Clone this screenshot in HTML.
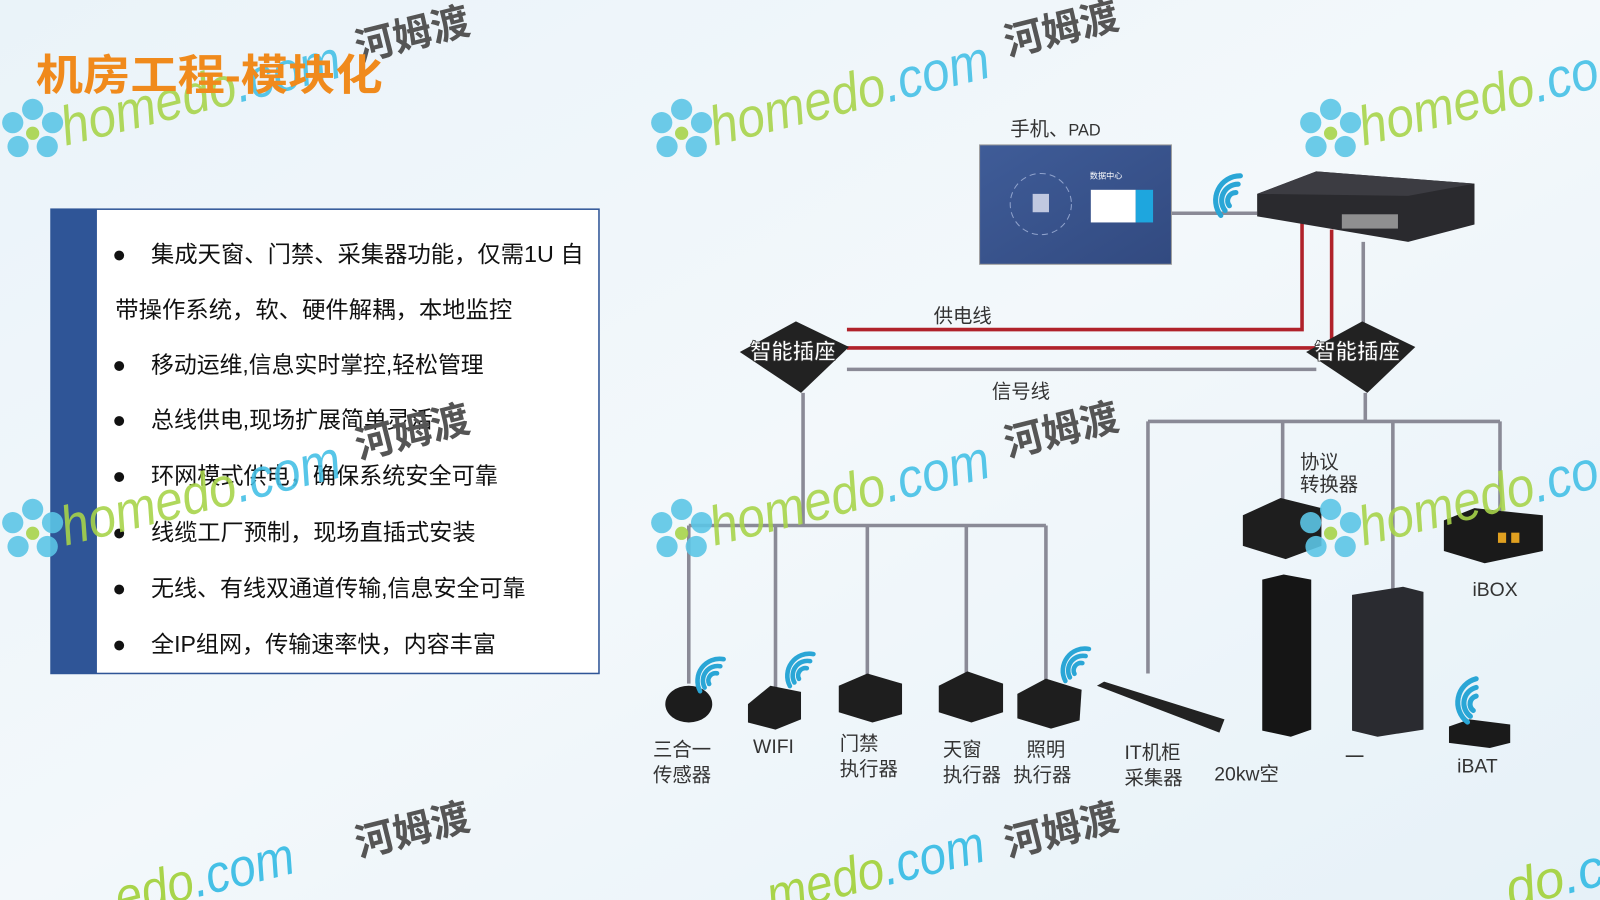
<!DOCTYPE html>
<html><head><meta charset="utf-8"><style>
html,body{margin:0;padding:0;width:1600px;height:900px;overflow:hidden;background:#eef5fa}
svg{display:block}
text{font-family:"Liberation Sans","Noto Sans CJK SC",sans-serif}
</style></head><body>
<svg width="1600" height="900" viewBox="0 0 1568 882" xmlns="http://www.w3.org/2000/svg">
<defs>
<linearGradient id="bg" x1="0" y1="0" x2="1" y2="1"><stop offset="0" stop-color="#eaf3f9"/><stop offset="0.5" stop-color="#f3f8fb"/><stop offset="1" stop-color="#e6f1f8"/></linearGradient>
<linearGradient id="pad" x1="0" y1="0" x2="1" y2="1"><stop offset="0" stop-color="#3f5c98"/><stop offset="1" stop-color="#324a80"/></linearGradient>
<g id="wm">
 <g fill="#5cc6e6" transform="scale(1.3)"><circle cx="0" cy="-16" r="8"/><circle cx="15" cy="-6" r="8"/><circle cx="11" cy="12" r="8"/><circle cx="-11" cy="12" r="8"/><circle cx="-15" cy="-6" r="8"/><circle cx="0" cy="2" r="5" fill="#a8d44a"/></g>
 <text x="36" y="14" font-size="54" fill="#a8d44a" font-style="italic" transform="rotate(-14 36 14) scale(0.9 1)">homedo<tspan fill="#45c0e6">.com</tspan></text>
</g>
<g id="wifi" fill="none" stroke="#2aa6d6" stroke-width="5" stroke-linecap="round"><path d="M-6 10 A8 8 0 0 1 6 2"/><path d="M-12 12 A16 16 0 0 1 12 -4"/><path d="M-18 14 A24 24 0 0 1 18 -10"/></g>
</defs>
<rect width="1568" height="882" fill="url(#bg)"/>

<!-- text box -->
<rect x="50" y="205" width="537" height="455" fill="#fff" stroke="#2f5597" stroke-width="1.5"/>
<rect x="50" y="205" width="45" height="455" fill="#2f5597"/>
<g font-size="22.5" fill="#111">
<text x="110" y="257">●</text><text x="148" y="257" textLength="424" lengthAdjust="spacingAndGlyphs">集成天窗、门禁、采集器功能，仅需1U 自</text>
<text x="113" y="311" textLength="389" lengthAdjust="spacingAndGlyphs">带操作系统，软、硬件解耦，本地监控</text>
<text x="110" y="365">●</text><text x="148" y="365" textLength="326" lengthAdjust="spacingAndGlyphs">移动运维,信息实时掌控,轻松管理</text>
<text x="110" y="419">●</text><text x="148" y="419" textLength="276" lengthAdjust="spacingAndGlyphs">总线供电,现场扩展简单灵活</text>
<text x="110" y="474">●</text><text x="148" y="474" textLength="340" lengthAdjust="spacingAndGlyphs">环网模式供电，确保系统安全可靠</text>
<text x="110" y="529">●</text><text x="148" y="529" textLength="318" lengthAdjust="spacingAndGlyphs">线缆工厂预制，现场直插式安装</text>
<text x="110" y="584">●</text><text x="148" y="584" textLength="367" lengthAdjust="spacingAndGlyphs">无线、有线双通道传输,信息安全可靠</text>
<text x="110" y="639">●</text><text x="148" y="639" textLength="338" lengthAdjust="spacingAndGlyphs">全IP组网，传输速率快，内容丰富</text>
</g>

<!-- lines -->
<g stroke="#8a8a96" stroke-width="3.5" fill="none">
<path d="M1148 209 H1232"/>
<path d="M1336 237 V318"/>
<path d="M830 362 H1290"/>
<path d="M787 385 V515 M675 515 H1025 M675 515 V670 M760 515 V675 M850 515 V665 M947 515 V665 M1025 515 V672"/>
<path d="M1338 385 V413 M1125 413 H1470 M1125 413 V660 M1257 413 V490 M1365 413 V580 M1470 413 V505"/>
</g>
<g stroke="#b0222a" stroke-width="3.5" fill="none">
<path d="M830 323 H1276 V207"/>
<path d="M830 341 H1305 V225"/>
</g>
<text x="915" y="316" font-size="19" fill="#333">供电线</text>
<text x="972" y="390" font-size="19" fill="#333">信号线</text>

<!-- PAD -->
<text x="990" y="133" font-size="19" fill="#333">手机、<tspan font-size="16">PAD</tspan></text>
<rect x="960" y="142" width="188" height="117" fill="url(#pad)" stroke="#999"/>
<circle cx="1020" cy="200" r="30" fill="none" stroke="#8fa2cc" stroke-width="1" stroke-dasharray="6 4"/>
<rect x="1012" y="190" width="16" height="18" fill="#c0c8e0"/>
<text x="1068" y="175" font-size="8" fill="#fff">数据中心</text>
<rect x="1069" y="186" width="44" height="32" fill="#fff"/>
<rect x="1113" y="186" width="17" height="32" fill="#1ea6de"/>

<!-- switch -->
<polygon points="1232,190 1290,168 1445,180 1445,220 1380,237 1232,212" fill="#2a2a2e"/>
<polygon points="1232,190 1290,168 1445,180 1380,192" fill="#3c3c42"/>
<rect x="1315" y="210" width="55" height="14" fill="#bbb" opacity="0.7"/>
<use href="#wifi" transform="translate(1205 190) rotate(-30)"/>

<!-- smart sockets -->
<g fill="#222">
<polygon points="725,345 780,315 832,340 785,385"/>
<polygon points="1280,345 1335,315 1387,340 1340,385"/>
</g>
<g font-size="21" fill="#fff" stroke="#333" stroke-width="0.8" font-weight="bold">
<text x="735" y="352">智能插座</text><text x="1288" y="352">智能插座</text>
</g>

<!-- bottom devices -->
<ellipse cx="675" cy="690" rx="23" ry="18" fill="#1c1c1c"/>
<use href="#wifi" transform="translate(697 660) rotate(-20) scale(0.9)"/>
<polygon points="733,690 755,672 785,678 785,705 760,715 733,708" fill="#1e1e1e"/>
<use href="#wifi" transform="translate(785 655) rotate(-20) scale(0.9)"/>
<polygon points="822,672 850,660 884,670 884,700 855,708 822,698" fill="#1e1e1e"/>
<polygon points="920,672 948,658 983,670 983,698 952,708 920,698" fill="#1e1e1e"/>
<polygon points="997,680 1025,665 1060,676 1058,706 1030,714 997,704" fill="#1e1e1e"/>
<use href="#wifi" transform="translate(1055 650) rotate(-20) scale(0.9)"/>
<polygon points="1075,672 1082,668 1200,705 1195,718" fill="#222"/>
<polygon points="1218,505 1255,488 1295,498 1295,535 1260,548 1218,535" fill="#1e1e1e"/>
<polygon points="1237,568 1258,563 1285,568 1285,715 1265,722 1237,716" fill="#151515"/>
<polygon points="1325,583 1375,575 1395,580 1395,715 1350,722 1325,716" fill="#2a2b30"/>
<polygon points="1415,510 1445,498 1512,505 1512,540 1455,552 1415,540" fill="#1a1a1a"/>
<rect x="1468" y="522" width="8" height="10" fill="#e0a020"/><rect x="1481" y="522" width="8" height="10" fill="#e0a020"/>
<polygon points="1420,712 1440,705 1480,710 1480,728 1460,733 1420,728" fill="#1a1a1a"/>
<use href="#wifi" transform="translate(1441 685) rotate(-45) scale(1)"/>

<g font-size="19" fill="#333">
<text x="640" y="741">三合一</text><text x="640" y="766">传感器</text>
<text x="738" y="738">WIFI</text>
<text x="823" y="735">门禁</text><text x="823" y="760">执行器</text>
<text x="924" y="741">天窗</text><text x="924" y="766">执行器</text>
<text x="1006" y="741">照明</text><text x="993" y="766">执行器</text>
<text x="1102" y="744">IT机柜</text><text x="1102" y="769">采集器</text>
<text x="1190" y="765">20kw空</text>
<text x="1318" y="748">一</text>
<text x="1428" y="757">iBAT</text>
<text x="1443" y="584">iBOX</text>
<text x="1274" y="459">协议</text><text x="1274" y="481">转换器</text>
</g>

<!-- watermarks -->
<g opacity="0.9">
<use href="#wm" transform="translate(32 128)"/>
<use href="#wm" transform="translate(668 128)"/>
<use href="#wm" transform="translate(1304 128)"/>
<use href="#wm" transform="translate(32 520)"/>
<use href="#wm" transform="translate(668 520)"/>
<use href="#wm" transform="translate(1304 520)"/>
</g>
<g font-size="52" fill="#45c0e6" font-style="italic">
<text x="130" y="895" transform="rotate(-14 130 895) scale(0.9 1)"><tspan fill="#a8d44a">edo</tspan>.com</text>
<text x="760" y="895" transform="rotate(-14 760 895) scale(0.9 1)" dx="80"><tspan fill="#a8d44a">medo</tspan>.com</text>
<text x="1480" y="890" transform="rotate(-14 1480 890)"><tspan fill="#a8d44a">do</tspan>.c</text>
</g>
<g font-size="38" fill="#555" font-weight="bold">
<text x="352" y="60" transform="rotate(-14 352 60)">河姆渡</text>
<text x="988" y="55" transform="rotate(-14 988 55)">河姆渡</text>
<text x="352" y="450" transform="rotate(-14 352 450)">河姆渡</text>
<text x="988" y="448" transform="rotate(-14 988 448)">河姆渡</text>
<text x="352" y="840" transform="rotate(-14 352 840)">河姆渡</text>
<text x="988" y="840" transform="rotate(-14 988 840)">河姆渡</text>
</g>

<!-- title -->
<text x="35" y="88" font-size="42" font-weight="bold" fill="#f08a1c" textLength="340" lengthAdjust="spacingAndGlyphs">机房工程-模块化</text>
</svg>
</body></html>
